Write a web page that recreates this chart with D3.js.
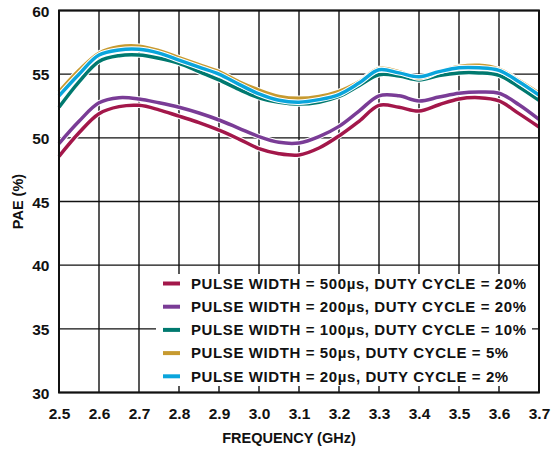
<!DOCTYPE html>
<html>
<head>
<meta charset="utf-8">
<script src="https://cdn.jsdelivr.net/npm/d3@7"></script>
<style>
  body { margin: 0; background: #fff; }
  text { font-family: "Liberation Sans", Arial, sans-serif; font-weight: bold; fill: #111; }
</style>
</head>
<body>
<script>
const w = 553;
const h = 450;
const margin = { top: 10.5, right: 14, bottom: 57.5, left: 59 };

// frequency (GHz)
const freq = [2.5, 2.55, 2.6, 2.65, 2.7, 2.75, 2.8, 2.85, 2.9, 2.95, 3.0, 3.05, 3.1,
  3.15, 3.2, 3.25, 3.3, 3.35, 3.4, 3.45, 3.5, 3.55, 3.6, 3.65, 3.7];

// PAE (%) per pulse setting
const pw500 = [48.55, 50.4, 51.9, 52.45, 52.55, 52.2, 51.7, 51.2, 50.6, 49.9, 49.15, 48.75, 48.65,
  49.2, 50.15, 51.3, 52.55, 52.4, 52.1, 52.6, 53.05, 53.15, 52.9, 51.9, 50.85];
const pw200 = [49.55, 51.3, 52.75, 53.15, 53.05, 52.75, 52.4, 51.95, 51.4, 50.75, 50.1, 49.65, 49.6,
  50.1, 50.9, 52.1, 53.3, 53.3, 52.9, 53.2, 53.5, 53.6, 53.5, 52.6, 51.45];
const pw100 = [52.4, 54.4, 56.0, 56.45, 56.5, 56.25, 55.85, 55.2, 54.55, 53.8, 53.15, 52.8, 52.65,
  52.8, 53.25, 54.1, 54.95, 54.85, 54.55, 54.9, 55.1, 55.1, 54.9, 54.0, 52.95];
const pw50 = [53.6, 55.3, 56.65, 57.15, 57.2, 56.85, 56.3, 55.75, 55.2, 54.4, 53.75, 53.25, 53.1,
  53.25, 53.65, 54.4, 55.45, 55.2, 54.7, 55.2, 55.6, 55.7, 55.4, 54.5, 53.5];
const pw20 = [53.3, 55.0, 56.5, 56.9, 56.95, 56.65, 56.1, 55.55, 55.0, 54.2, 53.45, 52.95, 52.8,
  53.0, 53.4, 54.3, 55.35, 55.1, 54.8, 55.2, 55.5, 55.5, 55.3, 54.4, 53.35];

const seriesNames = [
  "PULSE WIDTH = 500µs, DUTY CYCLE = 20%",
  "PULSE WIDTH = 200µs, DUTY CYCLE = 20%",
  "PULSE WIDTH = 100µs, DUTY CYCLE = 10%",
  "PULSE WIDTH = 50µs, DUTY CYCLE = 5%",
  "PULSE WIDTH = 20µs, DUTY CYCLE = 2%"
];
const seriesValues = [pw500, pw200, pw100, pw50, pw20];
const colors = ["#a3174a", "#7a3c96", "#00796f", "#c79a30", "#0aa5dc"];

const xTicks = [2.5, 2.6, 2.7, 2.8, 2.9, 3.0, 3.1, 3.2, 3.3, 3.4, 3.5, 3.6, 3.7];
const yTicks = [30, 35, 40, 45, 50, 55, 60];

const svg = d3.select("body").append("svg").attr("width", w).attr("height", h);

const x = d3.scaleLinear().domain([2.5, 3.7]).range([margin.left, w - margin.right]);
const y = d3.scaleLinear().domain([30, 60]).range([h - margin.bottom, margin.top]);

// grid
svg.append("g")
  .selectAll("line.v")
  .data(xTicks)
  .enter()
  .append("line")
  .attr("x1", d => x(d)).attr("x2", d => x(d))
  .attr("y1", y(30)).attr("y2", y(60))
  .style("stroke", "#111").style("stroke-width", 1.4);

svg.append("g")
  .selectAll("line.h")
  .data(yTicks)
  .enter()
  .append("line")
  .attr("x1", x(2.5)).attr("x2", x(3.7))
  .attr("y1", d => y(d)).attr("y2", d => y(d))
  .style("stroke", "#111").style("stroke-width", 1.4);

// lines
const line = d3.line()
  .x((d, i) => x(freq[i]))
  .y(d => y(d))
  .curve(d3.curveCatmullRom.alpha(0.5));

seriesValues.forEach(function (vals, k) {
  svg.append("path")
    .attr("d", line(vals))
    .style("fill", "none")
    .style("stroke", "#fff")
    .style("stroke-width", 5.5);
  svg.append("path")
    .attr("d", line(vals))
    .style("fill", "none")
    .style("stroke", colors[k])
    .style("stroke-width", 3.5)
    .style("stroke-linejoin", "round");
});

// legend box
const lg = svg.append("g");
lg.append("rect")
  .attr("x", 156).attr("y", 274)
  .attr("width", 376).attr("height", 112)
  .style("fill", "#fff");

seriesNames.forEach(function (name, k) {
  const cy = 283.5 + k * 23.2;
  lg.append("line")
    .attr("x1", 163).attr("x2", 180)
    .attr("y1", cy).attr("y2", cy)
    .style("stroke", colors[k]).style("stroke-width", 4);
  lg.append("text")
    .attr("x", 191).attr("y", cy + 5.3)
    .style("font-size", "15px")
    .style("letter-spacing", "0.6px")
    .text(name);
});

// frame
svg.append("rect")
  .attr("x", x(2.5)).attr("y", y(60))
  .attr("width", x(3.7) - x(2.5)).attr("height", y(30) - y(60))
  .style("fill", "none").style("stroke", "#111").style("stroke-width", 2);

// axes labels
const xAxis = d3.axisBottom(x).tickValues(xTicks).tickSize(0).tickPadding(0).tickFormat(d3.format(".1f"));
const gx = svg.append("g").attr("transform", `translate(0,${y(30)})`).call(xAxis);
gx.select(".domain").remove();
gx.selectAll("text").attr("dy", null).attr("y", 26.5).style("font-size", "15.5px").style("font-family", null);

const yAxis = d3.axisLeft(y).tickValues(yTicks).tickSize(0).tickPadding(0);
const gy = svg.append("g").attr("transform", `translate(${x(2.5)},0)`).call(yAxis);
gy.select(".domain").remove();
gy.selectAll("text").attr("x", -9.5).attr("dy", "0.36em").style("font-size", "15.5px").style("font-family", null);

svg.append("text")
  .attr("x", 289).attr("y", 443)
  .attr("text-anchor", "middle")
  .style("font-size", "14.5px")
  .text("FREQUENCY (GHz)");

svg.append("text")
  .attr("transform", `translate(23,${(y(30) + y(60)) / 2}) rotate(-90)`)
  .attr("text-anchor", "middle")
  .style("font-size", "14.5px")
  .text("PAE (%)");
</script>
</body>
</html>
